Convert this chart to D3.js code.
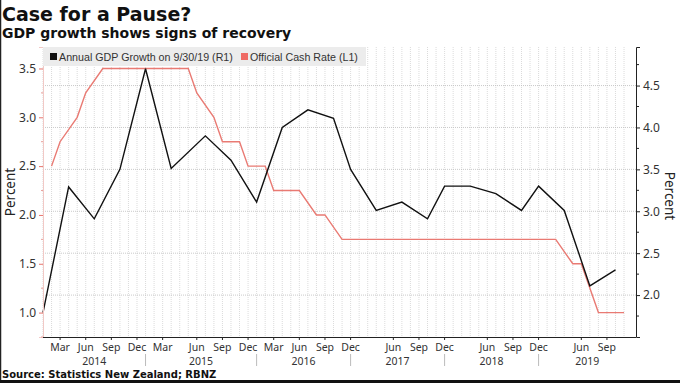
<!DOCTYPE html>
<html>
<head>
<meta charset="utf-8">
<script src="https://cdn.jsdelivr.net/npm/d3@7"></script>
<style>
  body { margin: 0; background: #fff; }
  svg { display: block; font-family: 'Noto Sans', sans-serif; }
</style>
</head>
<body>
<svg id="chart" width="680" height="383"></svg>
<script>
// OCR observations (RBNZ decision dates) and the rate, percent (left axis)
const ocrDates = [
  '2014-01-30', '2014-03-13', '2014-04-24', '2014-06-12', '2014-07-24', '2014-09-11', '2014-10-30', '2014-12-11',
  '2015-01-29', '2015-03-12', '2015-04-30', '2015-05-21', '2015-06-11', '2015-07-23', '2015-09-10', '2015-10-29', '2015-12-10',
  '2016-02-11', '2016-03-10', '2016-04-28', '2016-06-09', '2016-08-11', '2016-09-22', '2016-11-10',
  '2017-02-09', '2017-03-23', '2017-05-11', '2017-06-22', '2017-08-10', '2017-09-28', '2017-11-09',
  '2018-02-08', '2018-03-28', '2018-05-10', '2018-06-28', '2018-08-09', '2018-09-27', '2018-11-08',
  '2019-02-13', '2019-03-27', '2019-05-08', '2019-06-26', '2019-08-07', '2019-09-25', '2019-11-13'
];
const ocrValues = [
  2.5, 2.75, 3.0, 3.25, 3.5, 3.5, 3.5, 3.5,
  3.5, 3.5, 3.5, 3.5, 3.25, 3.0, 2.75, 2.75, 2.5,
  2.5, 2.25, 2.25, 2.25, 2.0, 2.0, 1.75,
  1.75, 1.75, 1.75, 1.75, 1.75, 1.75, 1.75,
  1.75, 1.75, 1.75, 1.75, 1.75, 1.75, 1.75,
  1.75, 1.75, 1.5, 1.5, 1.0, 1.0, 1.0
];

// annual GDP growth, quarter ends, percent (right axis)
const gdpDates = [
  '2013-12-31',
  '2014-03-31', '2014-06-30', '2014-09-30', '2014-12-31',
  '2015-03-31', '2015-06-30', '2015-09-30', '2015-12-31',
  '2016-03-31', '2016-06-30', '2016-09-30', '2016-12-31',
  '2017-03-31', '2017-06-30', '2017-09-30', '2017-12-31',
  '2018-03-31', '2018-06-30', '2018-09-30', '2018-12-31',
  '2019-03-31', '2019-06-30', '2019-09-30'
];
const gdpValues = [
  1.79,
  3.29, 2.91, 3.50, 4.70,
  3.51, 3.90, 3.61, 3.11,
  4.00, 4.21, 4.11, 3.50,
  3.01, 3.11, 2.91, 3.30,
  3.30, 3.21, 3.01, 3.30,
  3.01, 2.11, 2.30
];

const leftTicks = [1.0, 1.5, 2.0, 2.5, 3.0, 3.5];
const rightTicks = [2.0, 2.5, 3.0, 3.5, 4.0, 4.5];
const monthNames = { '03': 'Mar', '06': 'Jun', '09': 'Sep', '12': 'Dec' };
const years = ['2014', '2015', '2016', '2017', '2018', '2019'];

const svg = d3.select('#chart');
const plot = { left: 43, right: 636, top: 47, bottom: 337 };

// the time axis is spaced by observation, not by calendar time
const obs = Array.from(new Set([...ocrDates, ...gdpDates])).sort();
const idx = new Map(obs.map((d, i) => [d, i]));

const x = d3.scaleLinear().domain([0, obs.length - 1 + 1.4]).range([plot.left, plot.right]);
const yL = d3.scaleLinear().domain([0.75, 3.72]).range([plot.bottom, plot.top]);
const yR = d3.scaleLinear().domain([1.5, 4.96]).range([plot.bottom, plot.top]);

const ocr = ocrDates.map((d, i) => ({ d, v: ocrValues[i] }));
const gdp = gdpDates.map((d, i) => ({ d, v: gdpValues[i] }));

// grid
const grid = svg.append('g');
grid.selectAll('.vg')
  .data(obs)
  .enter()
  .append('line')
  .attr('x1', (d) => x(idx.get(d)))
  .attr('x2', (d) => x(idx.get(d)))
  .attr('y1', plot.top)
  .attr('y2', plot.bottom)
  .attr('stroke', '#d2d2d2')
  .attr('stroke-width', 0.8)
  .attr('stroke-dasharray', '1,1');

grid.selectAll('.hg')
  .data(rightTicks)
  .enter()
  .append('line')
  .attr('x1', plot.left)
  .attr('x2', plot.right)
  .attr('y1', (d) => yR(d))
  .attr('y2', (d) => yR(d))
  .attr('stroke', '#bdbdbd')
  .attr('stroke-width', 0.8)
  .attr('stroke-dasharray', '1,1');

// lines
svg.append('path')
  .datum(ocr)
  .attr('fill', 'none')
  .attr('stroke', '#e97a73')
  .attr('stroke-width', 1.4)
  .attr('d', d3.line().x((p) => x(idx.get(p.d))).y((p) => yL(p.v)));

svg.append('path')
  .datum(gdp)
  .attr('fill', 'none')
  .attr('stroke', '#111')
  .attr('stroke-width', 1.4)
  .attr('d', d3.line().x((p) => x(idx.get(p.d))).y((p) => yR(p.v)));

// left axis (OCR)
const leftAxis = d3.axisLeft(yL).tickValues(leftTicks).tickSize(4).tickFormat(d3.format('.1f'));
const gl = svg.append('g').attr('transform', `translate(${plot.left},0)`).call(leftAxis);
gl.select('.domain').attr('stroke', '#f1c9c6');
gl.selectAll('.tick line').attr('stroke', '#e8756e');
gl.selectAll('.tick text').attr('fill', '#333').attr('font-size', 12).attr('font-family', "'Noto Sans', sans-serif");
gl.selectAll('.minor')
  .data([0.75, 1.25, 1.75, 2.25, 2.75, 3.25])
  .enter()
  .append('line')
  .attr('x1', -2)
  .attr('x2', 0)
  .attr('y1', (d) => yL(d))
  .attr('y2', (d) => yL(d))
  .attr('stroke', '#e8a09b');

// right axis (GDP)
const rightAxis = d3.axisRight(yR).tickValues(rightTicks).tickSize(4).tickFormat(d3.format('.1f'));
const gr = svg.append('g').attr('transform', `translate(${plot.right},0)`).call(rightAxis);
gr.select('.domain').attr('stroke', '#222');
gr.selectAll('.tick line').attr('stroke', '#222');
gr.selectAll('.tick text').attr('fill', '#333').attr('font-size', 12).attr('font-family', "'Noto Sans', sans-serif");
gr.selectAll('.minor')
  .data([1.75, 2.25, 2.75, 3.25, 3.75, 4.25, 4.75])
  .enter()
  .append('line')
  .attr('x1', 0)
  .attr('x2', 3)
  .attr('y1', (d) => yR(d))
  .attr('y2', (d) => yR(d))
  .attr('stroke', '#222');

// bottom axis
svg.append('line')
  .attr('x1', plot.left)
  .attr('x2', plot.right)
  .attr('y1', plot.bottom + 0.5)
  .attr('y2', plot.bottom + 0.5)
  .attr('stroke', '#222');

// month labels: first observation in Mar/Jun/Sep/Dec, dropping ones that crowd the previous label
const monthTicks = [];
let lastX = -100;
obs.forEach((d, i) => {
  const m = d.slice(5, 7);
  const ym = d.slice(0, 7);
  if (!monthNames[m] || !years.includes(d.slice(0, 4))) return;
  if (monthTicks.length && monthTicks[monthTicks.length - 1].ym === ym) return;
  if (x(i) - lastX < 20) { monthTicks.push({ ym, skip: true }); return; }
  monthTicks.push({ ym, i, label: monthNames[m] });
  lastX = x(i);
});
const shown = monthTicks.filter((t) => !t.skip);

const xa = svg.append('g').attr('font-size', 10.5).attr('fill', '#333');
xa.selectAll('.mt')
  .data(shown)
  .enter()
  .append('line')
  .attr('x1', (t) => x(t.i))
  .attr('x2', (t) => x(t.i))
  .attr('y1', plot.bottom)
  .attr('y2', plot.bottom + 3)
  .attr('stroke', '#222');
xa.selectAll('.ml')
  .data(shown)
  .enter()
  .append('text')
  .attr('x', (t) => x(t.i))
  .attr('y', 350.5)
  .attr('text-anchor', 'middle')
  .text((t) => t.label);

// year separators at each year's last observation
const yearEnds = years.slice(0, -1).map((yr) => d3.max(obs.filter((d) => d.startsWith(yr)), (d) => idx.get(d)));
const bounds = [0, ...yearEnds, x.domain()[1]];
xa.selectAll('.ys')
  .data(yearEnds)
  .enter()
  .append('line')
  .attr('x1', (i) => x(i))
  .attr('x2', (i) => x(i))
  .attr('y1', 354)
  .attr('y2', 366)
  .attr('stroke', '#bbb');
xa.selectAll('.yl')
  .data(years)
  .enter()
  .append('text')
  .attr('x', (yr, k) => x((bounds[k] + bounds[k + 1]) / 2))
  .attr('y', 365)
  .attr('text-anchor', 'middle')
  .text((yr) => yr);

// legend
const lg = svg.append('g').attr('font-family', "'Liberation Sans', Arial, sans-serif").attr('font-size', 10.7).attr('fill', '#333');
lg.append('rect').attr('x', plot.left).attr('y', plot.top).attr('width', 323).attr('height', 19).attr('fill', '#ececec');
lg.append('rect').attr('x', 50).attr('y', 53).attr('width', 7).attr('height', 7).attr('fill', '#111');
lg.append('text').attr('x', 59).attr('y', 60.5).text('Annual GDP Growth on 9/30/19 (R1)');
lg.append('rect').attr('x', 241).attr('y', 53).attr('width', 7).attr('height', 7).attr('fill', '#ef6a64');
lg.append('text').attr('x', 250).attr('y', 60.5).text('Official Cash Rate (L1)');

// axis titles
svg.append('text')
  .attr('transform', 'translate(15,192) rotate(-90)')
  .attr('text-anchor', 'middle')
  .attr('font-size', 13.5)
  .attr('fill', '#222')
  .text('Percent');
svg.append('text')
  .attr('transform', 'translate(665,196) rotate(90)')
  .attr('text-anchor', 'middle')
  .attr('font-size', 13.5)
  .attr('fill', '#222')
  .text('Percent');

// titles and source
svg.append('text').attr('x', 2).attr('y', 21).attr('font-family', "'DejaVu Sans', sans-serif").attr('font-weight', 'bold').attr('font-size', 19).attr('fill', '#111').text('Case for a Pause?');
svg.append('text').attr('x', 2).attr('y', 38).attr('font-family', "'DejaVu Sans', sans-serif").attr('font-weight', 'bold').attr('font-size', 14).attr('fill', '#111').text('GDP growth shows signs of recovery');
svg.append('text').attr('x', 2).attr('y', 378).attr('font-family', "'DejaVu Sans', sans-serif").attr('font-weight', 'bold').attr('font-size', 10).attr('fill', '#111').text('Source: Statistics New Zealand; RBNZ');

// frame
svg.append('line').attr('x1', 0.5).attr('x2', 0.5).attr('y1', 0).attr('y2', 383).attr('stroke', '#222').attr('stroke-width', 1.5);
svg.append('line').attr('x1', 0).attr('x2', 680).attr('y1', 381.5).attr('y2', 381.5).attr('stroke', '#111').attr('stroke-width', 3);
</script>
</body>
</html>
